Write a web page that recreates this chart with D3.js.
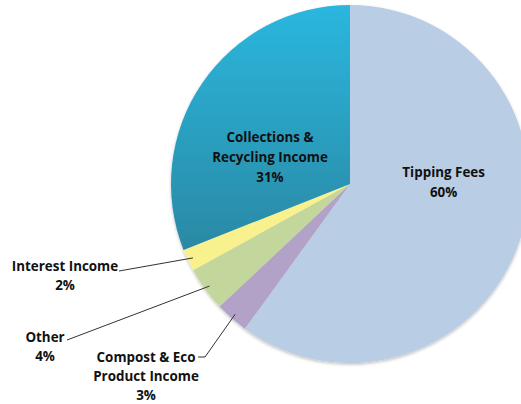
<!DOCTYPE html>
<html>
<head>
<meta charset="utf-8">
<script src="https://cdn.jsdelivr.net/npm/d3@7"></script>
<style>
  body { margin: 0; background: #fff; }
  text { font-family: "Open Sans", "Liberation Sans", sans-serif; font-weight: bold; font-size: 13.4px; fill: #111; }
</style>
</head>
<body>
<div id="chart"></div>
<script>
// slices, clockwise from 12 o'clock
const categories = ["Tipping Fees", "Compost & Eco Product Income", "Other", "Interest Income", "Collections & Recycling Income"];
const values = [60, 3, 4, 2, 31];
const colors = ["#b9cde5", "#b3a2c7", "#c3d69b", "#f8f18e", "url(#collGrad)"];

const width = 521, height = 404;
const cx = 350, cy = 184, radius = 179;

const svg = d3.select("#chart")
    .append("svg")
    .attr("width", width)
    .attr("height", height);

const defs = svg.append("defs");
const grad = defs.append("linearGradient")
    .attr("id", "collGrad")
    .attr("gradientUnits", "userSpaceOnUse")
    .attr("x1", 0).attr("y1", -radius)
    .attr("x2", 0).attr("y2", radius * 0.45);
grad.append("stop").attr("offset", "0%").attr("stop-color", "#2cb7de");
grad.append("stop").attr("offset", "100%").attr("stop-color", "#2a86a1");

const shadow = defs.append("filter").attr("id", "shadow")
    .attr("x", "-10%").attr("y", "-10%").attr("width", "120%").attr("height", "120%");
shadow.append("feDropShadow")
    .attr("dx", 0).attr("dy", 1.5).attr("stdDeviation", 1.5)
    .attr("flood-color", "#000").attr("flood-opacity", 0.25);

const pie = d3.pie().sort(null).value(d => d)(values);
const arc = d3.arc().innerRadius(0).outerRadius(radius);

const g = svg.append("g")
    .attr("transform", `translate(${cx}, ${cy})`);

g.append("g").attr("filter", "url(#shadow)")
  .selectAll("path")
  .data(pie)
  .join("path")
    .attr("d", arc)
    .attr("fill", (d, i) => colors[i]);

// inside labels
const inner = [
  {i: 0, lines: ["Tipping Fees", "60%"], r: 0.55, dx: 0, dy: -31},
  {i: 4, lines: ["Collections &", "Recycling Income", "31%"], r: 0.5, dx: -6, dy: 24}
];
inner.forEach(o => {
  const c = d3.arc().innerRadius(radius * o.r).outerRadius(radius * o.r).centroid(pie[o.i]);
  const t = g.append("text")
      .attr("text-anchor", "middle")
      .attr("transform", `translate(${c[0] + o.dx}, ${c[1] + o.dy - (o.lines.length - 1) * 10 + 4})`);
  o.lines.forEach((l, k) => t.append("tspan").attr("x", 0).attr("dy", k ? 20 : 0).text(l));
});

// outside labels with leader lines
const outer = [
  {i: 3, lines: ["Interest Income", "2%"], x: 65, y: 271, line: [[119, 271]]},
  {i: 2, lines: ["Other", "4%"], x: 45, y: 342, line: [[67, 340]]},
  {i: 1, lines: ["Compost & Eco", "Product Income", "3%"], x: 146, y: 362, line: [[198, 357], [205, 357]]}
];
outer.forEach(o => {
  const a = pie[o.i];
  const mid = (a.startAngle + a.endAngle) / 2;
  const rr = radius * 0.97;
  const end = [cx + Math.sin(mid) * rr, cy - Math.cos(mid) * rr];
  svg.append("path")
      .attr("d", d3.line()(o.line.concat([end])))
      .attr("fill", "none")
      .attr("stroke", "#333")
      .attr("stroke-width", 1);
  const t = svg.append("text")
      .attr("text-anchor", "middle")
      .attr("transform", `translate(${o.x}, ${o.y})`);
  o.lines.forEach((l, k) => t.append("tspan").attr("x", 0).attr("dy", k ? 19 : 0).text(l));
});
</script>
</body>
</html>
